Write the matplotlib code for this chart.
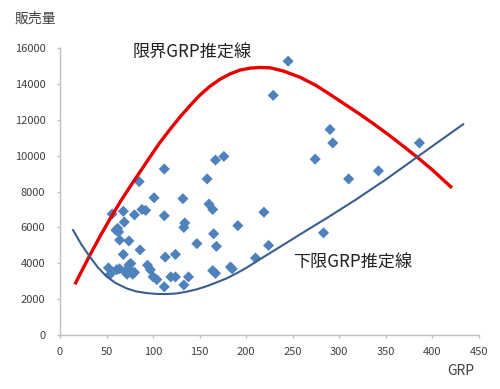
import matplotlib
matplotlib.use("Agg")
import matplotlib.pyplot as plt

plt.rcParams['font.family'] = ['Noto Sans CJK JP', 'DejaVu Sans']

# Scatter data: GRP vs sales
grp = [52, 54, 56, 60, 62, 63, 61, 64, 64, 68, 69, 68, 70, 72, 74, 75, 76, 74,
       78, 80, 80, 86, 85, 88, 92, 94, 97, 100, 101, 104, 112, 112, 113, 112,
       119, 124, 124, 132, 133, 134, 133, 138, 147, 158, 160, 164, 165, 168,
       164, 167, 167, 176, 183, 185, 191, 210, 219, 224, 229, 245, 274, 283,
       290, 293, 310, 342, 386]
sales = [3750, 3400, 6750, 5850, 5950, 5750, 3650, 3700, 5300, 6900, 6300, 4500,
         3550, 3400, 3900, 3650, 4000, 5250, 3400, 3500, 6700, 4750, 8550, 7000,
         6950, 3900, 3650, 3250, 7650, 3100, 6650, 9250, 4350, 2700, 3250, 3250,
         4500, 7600, 2800, 6250, 6000, 3250, 5100, 8700, 7300, 7000, 5650, 4950,
         3600, 3450, 9750, 9950, 3800, 3700, 6100, 4300, 6850, 5000, 13350,
         15250, 9800, 5700, 11450, 10700, 8700, 9150, 10700]

# Upper estimate line (限界GRP推定線)
upper_x = [16, 25, 32, 44, 54, 65, 75, 86, 97, 107, 118, 129, 140, 150, 161,
           172, 183, 193, 204, 215, 226, 240, 258, 275, 290, 306, 322, 338,
           354, 370, 385, 400, 421]
upper_y = [2835, 3750, 4450, 5600, 6500, 7450, 8250, 9100, 9950, 10700, 11450,
           12150, 12800, 13350, 13850, 14250, 14550, 14750, 14860, 14900, 14880,
           14700, 14350, 13900, 13400, 12850, 12300, 11720, 11110, 10470, 9850,
           9200, 8200]

# Lower estimate line (下限GRP推定線)
lower_x = [14, 23, 32, 41, 50, 60, 72, 82, 93, 104, 115, 125, 136, 147, 158,
           168, 179, 190, 201, 211, 222, 236, 251, 268, 286, 302, 317, 333, 349,
           367, 385, 409, 433]
lower_y = [5855, 5050, 4370, 3760, 3270, 2900, 2600, 2440, 2350, 2300, 2296,
           2330, 2424, 2560, 2741, 2940, 3169, 3460, 3781, 4110, 4465, 4910,
           5393, 5940, 6505, 7030, 7523, 8080, 8635, 9300, 9970, 10860, 11740]

xticks = [0, 50, 100, 150, 200, 250, 300, 350, 400, 450]
yticks = [0, 2000, 4000, 6000, 8000, 10000, 12000, 14000, 16000]

fig = plt.figure(figsize=(5.0, 3.89), dpi=100)
ax = fig.add_axes([0.12, 0.138, 0.838, 0.7394])

ax.plot(upper_x, upper_y, color='#e60000', lw=2.4, solid_capstyle='butt',
        solid_joinstyle='round', zorder=3)
ax.plot(lower_x, lower_y, color='#3b5e8c', lw=1.5, solid_joinstyle='round',
        zorder=3)
ax.scatter(grp, sales, marker='D', s=32, color='#4f81bd', edgecolors='none',
           zorder=2)

ax.set_xlim(0, 450)
ax.set_ylim(0, 16000)
ax.set_xticks(xticks)
ax.set_yticks(yticks)
ax.set_xticklabels([str(v) for v in xticks])
ax.set_yticklabels([str(v) for v in yticks])

for s in ['top', 'right']:
    ax.spines[s].set_visible(False)
for s in ['left', 'bottom']:
    ax.spines[s].set_color('#bfbfbf')
    ax.spines[s].set_linewidth(1.0)
ax.tick_params(axis='both', direction='out', length=2.5, width=1.0,
               color='#bfbfbf', labelsize=8, labelcolor='#404040')
ax.tick_params(axis='y', pad=8)
ax.tick_params(axis='x', pad=6)

fig.text(15 / 500, 1 - 19 / 389, '販売量', fontsize=10, color='#404040',
         ha='left', va='center')
fig.text(474 / 500, 1 - 371 / 389, 'GRP', fontsize=10, color='#404040',
         ha='right', va='center')

ax.text(78, 15750, '限界GRP推定線', fontsize=12.3, color='#222222',
        ha='left', va='center')
ax.text(250, 4020, '下限GRP推定線', fontsize=12.3, color='#222222',
        ha='left', va='center')

fig.savefig('out.png', dpi=100)
